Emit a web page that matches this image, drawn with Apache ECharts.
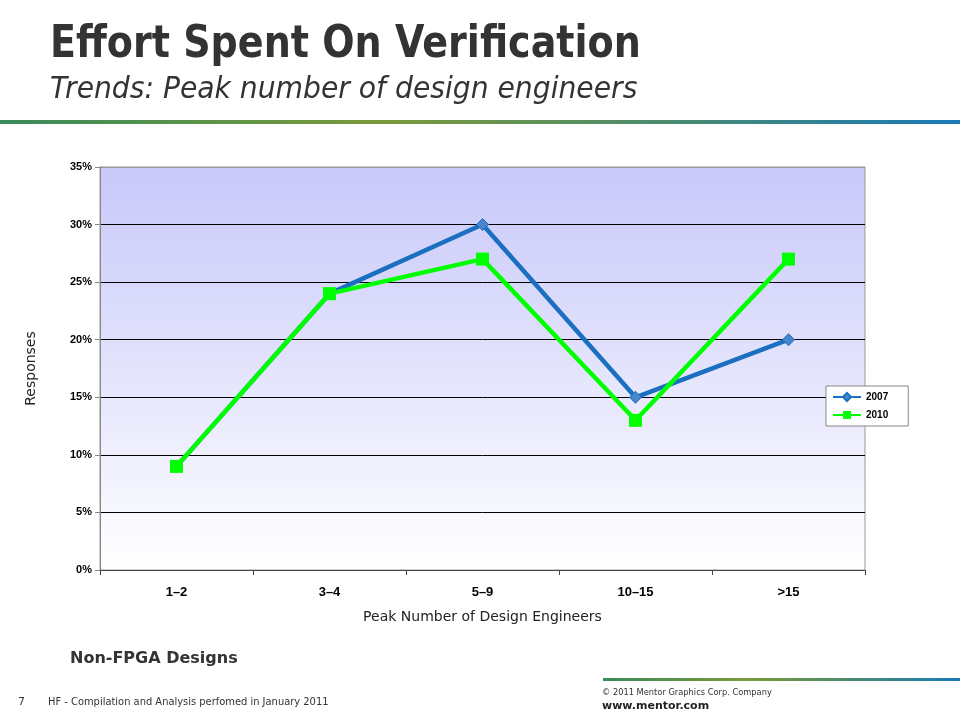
<!DOCTYPE html>
<html><head><meta charset="utf-8">
<script src="https://cdn.jsdelivr.net/npm/echarts@6/dist/echarts.min.js"></script>
<style>html,body{margin:0;padding:0;background:#fff}#c{width:960px;height:720px}</style>
</head><body><div id="c"></div>
<script>
const categories = ['1\u20132', '3\u20134', '5\u20139', '10\u201315', '>15'];
const series2007 = [9, 24, 30, 15, 20];
const series2010 = [9, 24, 27, 13, 27];
const yTicks = [0, 5, 10, 15, 20, 25, 30, 35];

const chart = echarts.init(document.getElementById('c'));
const lineGrad = {type:'linear', x:0, y:0, x2:1, y2:0, colorStops:[
  {offset:0, color:'#3a8a5a'}, {offset:0.4, color:'#7a9a3a'}, {offset:0.7, color:'#4a8a70'}, {offset:1, color:'#1a7ab8'}]};
chart.setOption({
  animation:false,
  graphic:[
    {type:'text', x:50, y:24, scaleX:0.865, style:{text:'Effort Spent On Verification', font:'bold 44px "DejaVu Sans"', fill:'#333'}},
    {type:'text', x:50, y:75, scaleX:0.94, style:{text:'Trends: Peak number of design engineers', font:'italic 30px "DejaVu Sans"', fill:'#333'}},
    {type:'rect', shape:{x:0, y:120, width:960, height:4}, style:{fill:lineGrad}},
    {type:'rect', shape:{x:603, y:678, width:357, height:3}, style:{fill:lineGrad}},
    {type:'text', left:70, top:651, style:{text:'Non-FPGA Designs', font:'bold 16px "DejaVu Sans"', fill:'#333'}},
    {type:'text', left:18, top:697, style:{text:'7', font:'11px "DejaVu Sans"', fill:'#333'}},
    {type:'text', x:48, y:697, scaleX:0.9, style:{text:'HF - Compilation and Analysis perfomed in January 2011', font:'11px "DejaVu Sans"', fill:'#333'}},
    {type:'text', x:602, y:688, scaleX:0.92, style:{text:'\u00a9 2011 Mentor Graphics Corp. Company', font:'9px "DejaVu Sans"', fill:'#333'}},
    {type:'text', left:602, top:701, style:{text:'www.mentor.com', font:'bold 11px "DejaVu Sans"', fill:'#222'}}
  ],
  grid:{left:100, right:95, top:167, bottom:150, show:true, borderColor:'#999', borderWidth:1,
    backgroundColor:{type:'linear', x:0, y:0, x2:0, y2:1, colorStops:[{offset:0, color:'#c8c8fa'}, {offset:1, color:'#ffffff'}]}},
  legend:{orient:'vertical', left:826, top:386, itemWidth:28, itemHeight:10, itemGap:8,
    padding:[6,20,6,6], borderColor:'#888', borderWidth:1, backgroundColor:'#fff',
    textStyle:{fontFamily:'Liberation Sans', fontWeight:'bold', fontSize:10, color:'#000'},
    data:['2007','2010']},
  xAxis:{type:'category', data:categories, boundaryGap:true,
    axisLine:{lineStyle:{color:'#444'}}, axisTick:{show:true, lineStyle:{color:'#444'}},
    axisLabel:{color:'#000', fontFamily:'Liberation Sans', fontWeight:'bold', fontSize:13, margin:16},
    name:'Peak Number of Design Engineers', nameLocation:'middle', nameGap:40,
    nameTextStyle:{color:'#222', fontFamily:'DejaVu Sans', fontSize:14}},
  yAxis:{type:'value', min:0, max:35, interval:5,
    axisLine:{show:true, lineStyle:{color:'#888'}}, axisTick:{show:true, lineStyle:{color:'#888'}},
    axisLabel:{color:'#000', fontFamily:'Liberation Sans', fontWeight:'bold', fontSize:11, margin:8, formatter:v=>v+'%'},
    splitLine:{show:true, lineStyle:{color:['#666','#000','#000','#000','#000','#000','#000','#999'], width:1}},
    name:'Responses', nameLocation:'middle', nameGap:62, nameRotate:90,
    nameTextStyle:{color:'#222', fontFamily:'DejaVu Sans', fontSize:14}},
  series:[
    {name:'2007', type:'line', data:series2007, symbol:'diamond', symbolSize:12,
      lineStyle:{color:'#1a6fc0', width:4.5}, itemStyle:{color:'#4a86cc', borderColor:'#1a6fc0', borderWidth:1}, z:2},
    {name:'2010', type:'line', data:series2010, symbol:'rect', symbolSize:13,
      lineStyle:{color:'#00ff00', width:4.5}, itemStyle:{color:'#00ff00'}, z:3}
  ]
});
</script></body></html>
